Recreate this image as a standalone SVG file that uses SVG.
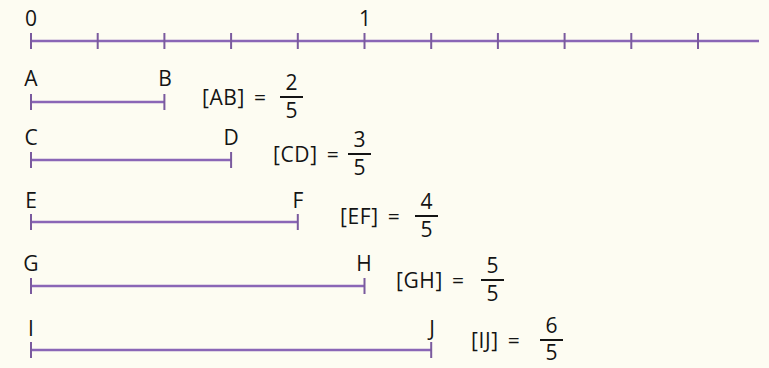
<svg xmlns="http://www.w3.org/2000/svg" width="769" height="368" viewBox="0 0 769 368">
<style>
.ln{stroke:#8a66b6;stroke-width:2.4;fill:none}
.tk{stroke:#7a5a9e;stroke-width:2;fill:none}
text{font-family:"Open Sans","Noto Sans","Liberation Sans",sans-serif;font-size:21px;font-weight:500;fill:#141414}
.e{letter-spacing:0.6px;word-spacing:3px}
.m{text-anchor:middle}
.bar{stroke:#141414;stroke-width:2}
</style>
<rect width="769" height="368" fill="#fdfcf2"/>
<g id="numberline">
<text class="m" x="31" y="26">0</text>
<text class="m" x="365" y="26">1</text>
<line class="ln" x1="31" y1="41" x2="759" y2="41"/>
<path class="tk" d="M31 33V49M97.7 33V49M164.4 33V49M231.1 33V49M297.8 33V49M364.5 33V49M431.2 33V49M497.9 33V49M564.6 33V49M631.3 33V49M698 33V49"/>
</g>
<g id="AB">
<text class="m" x="31" y="86">A</text>
<text class="m" x="165" y="86">B</text>
<line class="ln" x1="31" y1="102" x2="164.4" y2="102"/>
<path class="tk" d="M31 94V110M164.4 94V110"/>
<text class="e" x="202" y="105">[AB] =</text>
<line class="bar" x1="280" y1="97" x2="303" y2="97"/>
<text class="m" x="291.5" y="90">2</text>
<text class="m" x="291.5" y="118">5</text>
</g>
<g id="CD">
<text class="m" x="31" y="145">C</text>
<text class="m" x="231" y="145">D</text>
<line class="ln" x1="31" y1="160" x2="231.1" y2="160"/>
<path class="tk" d="M31 152V168M231.1 152V168"/>
<text class="e" x="273" y="162">[CD] =</text>
<line class="bar" x1="348" y1="154" x2="371" y2="154"/>
<text class="m" x="359.5" y="147">3</text>
<text class="m" x="359.5" y="175">5</text>
</g>
<g id="EF">
<text class="m" x="31" y="208">E</text>
<text class="m" x="298" y="208">F</text>
<line class="ln" x1="31" y1="222" x2="297.8" y2="222"/>
<path class="tk" d="M31 214V230M297.8 214V230"/>
<text class="e" x="340" y="224">[EF] =</text>
<line class="bar" x1="415" y1="216" x2="438" y2="216"/>
<text class="m" x="426.5" y="209">4</text>
<text class="m" x="426.5" y="237">5</text>
</g>
<g id="GH">
<text class="m" x="31" y="271">G</text>
<text class="m" x="364" y="271">H</text>
<line class="ln" x1="31" y1="286" x2="364.5" y2="286"/>
<path class="tk" d="M31 278V294M364.5 278V294"/>
<text class="e" x="396" y="288">[GH] =</text>
<line class="bar" x1="481" y1="280" x2="504" y2="280"/>
<text class="m" x="492.5" y="273">5</text>
<text class="m" x="492.5" y="301">5</text>
</g>
<g id="IJ">
<text class="m" x="31" y="336">I</text>
<text class="m" x="432" y="336">J</text>
<line class="ln" x1="31" y1="350" x2="431.2" y2="350"/>
<path class="tk" d="M31 342V358M431.2 342V358"/>
<text class="e" x="471" y="348">[IJ] =</text>
<line class="bar" x1="540" y1="340" x2="563" y2="340"/>
<text class="m" x="551.5" y="333">6</text>
<text class="m" x="551.5" y="360">5</text>
</g>
</svg>
